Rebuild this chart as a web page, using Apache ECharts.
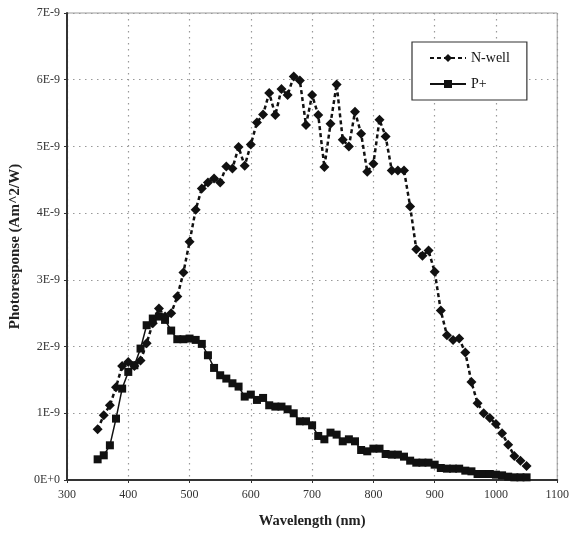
<!DOCTYPE html>
<html>
<head>
<meta charset="utf-8">
<script src="https://cdn.jsdelivr.net/npm/echarts@6/dist/echarts.min.js"></script>
<style>
html,body{margin:0;padding:0;background:#fff;}
#c{width:572px;height:535px;}
</style>
</head>
<body>
<div id="c"></div>
<script>
// Wavelength categories (nm)
var wavelengths = [350,360,370,380,390,400,410,420,430,440,450,460,470,480,490,500,510,520,530,540,550,560,570,580,590,600,610,620,630,640,650,660,670,680,690,700,710,720,730,740,750,760,770,780,790,800,810,820,830,840,850,860,870,880,890,900,910,920,930,940,950,960,970,980,990,1000,1010,1020,1030,1040,1050];
// Photoresponse in units of 1E-9 A m^2/W
var nwellE9 = [0.76,0.97,1.12,1.39,1.71,1.77,1.71,1.79,2.05,2.35,2.57,2.45,2.50,2.75,3.11,3.57,4.05,4.37,4.46,4.52,4.46,4.70,4.67,4.99,4.71,5.03,5.36,5.48,5.80,5.47,5.86,5.77,6.05,5.99,5.32,5.77,5.47,4.69,5.34,5.93,5.10,5.00,5.52,5.19,4.62,4.74,5.40,5.15,4.64,4.64,4.64,4.10,3.46,3.36,3.44,3.12,2.54,2.17,2.10,2.12,1.91,1.47,1.15,1.00,0.93,0.84,0.70,0.53,0.36,0.29,0.21];
var pplusE9 = [0.31,0.37,0.52,0.92,1.37,1.62,1.72,1.97,2.32,2.42,2.45,2.40,2.24,2.11,2.11,2.12,2.10,2.04,1.87,1.68,1.57,1.52,1.45,1.40,1.25,1.28,1.20,1.23,1.12,1.10,1.10,1.06,1.00,0.88,0.88,0.82,0.66,0.61,0.71,0.68,0.58,0.61,0.58,0.45,0.43,0.47,0.47,0.39,0.38,0.38,0.35,0.29,0.26,0.26,0.26,0.23,0.18,0.17,0.17,0.17,0.14,0.13,0.09,0.09,0.09,0.08,0.07,0.05,0.04,0.04,0.04];
var seriesNames = ['N-well','P+'];
var xTicks = {min:300, max:1100, interval:100};
var yTicks = {min:0, max:7, interval:1};

function pairs(xs, ys){ return xs.map(function(x,i){ return [x, ys[i]]; }); }

var FONT = 'Liberation Serif';
var chart = echarts.init(document.getElementById('c'), null, {renderer:'canvas'});
chart.setOption({
  backgroundColor:'#fff',
  animation:false,
  grid:{left:65, right:13, top:13, bottom:55, show:true, borderColor:'#9a9a9a', borderWidth:1, backgroundColor:'transparent'},
  legend:{
    orient:'vertical', left:412, top:42,
    padding:[9,17,9,17], itemGap:12, itemWidth:36, itemHeight:10,
    borderColor:'#333', borderWidth:1.2, backgroundColor:'#fff',
    textStyle:{fontFamily:FONT, fontSize:14, color:'#111'},
    data:seriesNames
  },
  xAxis:{
    type:'value', min:xTicks.min, max:xTicks.max, interval:xTicks.interval,
    name:'Wavelength (nm)', nameLocation:'middle', nameGap:34,
    nameTextStyle:{fontFamily:FONT, fontSize:14.5, fontWeight:'bold', color:'#222'},
    axisLine:{show:true, onZero:false, lineStyle:{color:'#333', width:2}},
    axisTick:{show:true, inside:false, length:3, lineStyle:{color:'#333'}},
    axisLabel:{fontFamily:FONT, fontSize:12, color:'#333', margin:9,
      formatter:function(v){ return String(v); }},
    splitLine:{show:true, lineStyle:{color:'#999', type:[1.5,4.5], width:1.2}}
  },
  yAxis:{
    type:'value', min:yTicks.min, max:yTicks.max, interval:yTicks.interval,
    name:'Photoresponse (Am^2/W)', nameLocation:'middle', nameGap:41,
    nameTextStyle:{fontFamily:FONT, fontSize:15, fontWeight:'bold', color:'#222'},
    axisLine:{show:true, lineStyle:{color:'#333', width:2}},
    axisTick:{show:true, length:3, lineStyle:{color:'#333'}},
    axisLabel:{fontFamily:FONT, fontSize:12, color:'#333', margin:7,
      formatter:function(v){ return v===0 ? '0E+0' : Math.round(v)+'E-9'; }},
    splitLine:{show:true, lineStyle:{color:'#999', type:[1.5,4.5], width:1.2}}
  },
  series:[
    {name:seriesNames[0], type:'line', data:pairs(wavelengths, nwellE9),
     symbol:'diamond', symbolSize:10, showAllSymbol:true,
     lineStyle:{color:'#111', width:2.5, type:[4,3]},
     itemStyle:{color:'#111', borderWidth:0}, z:3},
    {name:seriesNames[1], type:'line', data:pairs(wavelengths, pplusE9),
     symbol:'rect', symbolSize:8, showAllSymbol:true,
     lineStyle:{color:'#111', width:1.5, type:'solid'},
     itemStyle:{color:'#111', borderWidth:0}, z:2}
  ]
});
</script>
</body>
</html>
